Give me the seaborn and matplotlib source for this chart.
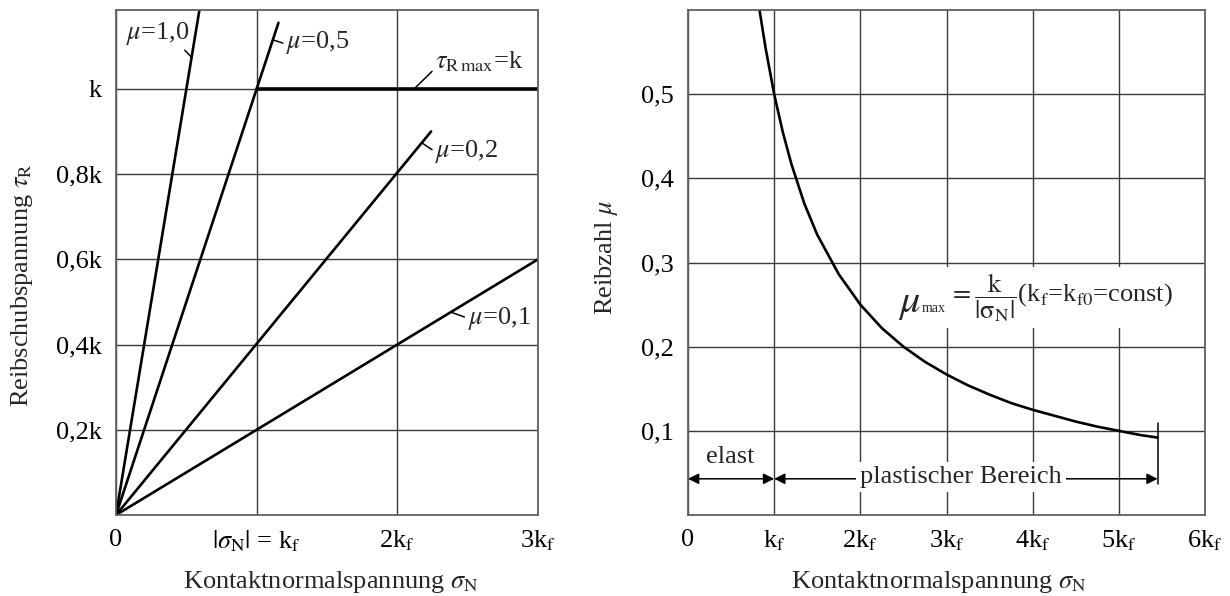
import matplotlib
matplotlib.use("Agg")
import matplotlib.pyplot as plt
import numpy as np
import pandas as pd
import seaborn as sns

# ---------------- data ----------------
# left panel: friction lines tau_R = mu*|sigma_N| (units: x in k_f, y in k)
friction_labels = ["1,0", "0,5", "0,2", "0,1"]
line_x_end = [0.593, 1.155, 2.24, 3.0]
line_y_end = [1.185, 1.155, 0.90, 0.60]
tau_max_x = [1.0, 3.0]
tau_max_y = [1.0, 1.0]

left_xticks = [0, 1, 2, 3]
left_xticklabels = ["0", r"$|\sigma_{\rm N}|$ = k$_{\rm f}$", r"2k$_{\rm f}$", r"3k$_{\rm f}$"]
left_yticks = [0.2, 0.4, 0.6, 0.8, 1.0]
left_yticklabels = ["0,2k", "0,4k", "0,6k", "0,8k", "k"]

# right panel: maximum friction coefficient vs contact normal stress
sigma_n = [0.80, 0.83, 0.9, 1.0, 1.1, 1.2, 1.35, 1.5, 1.75, 2.0, 2.25, 2.5, 2.75,
           3.0, 3.25, 3.5, 3.75, 4.0, 4.25, 4.5, 4.75, 5.0, 5.25, 5.45]
mu_max = [0.625, 0.600, 0.555, 0.500, 0.455, 0.417, 0.370, 0.333, 0.286, 0.250, 0.222,
          0.200, 0.182, 0.167, 0.154, 0.143, 0.133, 0.125, 0.118, 0.111, 0.105,
          0.100, 0.095, 0.092]
plastic_end = 5.45

right_xticks = [0, 1, 2, 3, 4, 5, 6]
right_xticklabels = ["0", r"k$_{\rm f}$", r"2k$_{\rm f}$", r"3k$_{\rm f}$",
                     r"4k$_{\rm f}$", r"5k$_{\rm f}$", r"6k$_{\rm f}$"]
right_yticks = [0.1, 0.2, 0.3, 0.4, 0.5]
right_yticklabels = ["0,1", "0,2", "0,3", "0,4", "0,5"]

# ---------------- style ----------------
sns.set_theme(style="white")
plt.rcParams["font.family"] = ["Liberation Serif", "DejaVu Serif"]
plt.rcParams["mathtext.fontset"] = "stix"

FS = 19
GRID_C = "#3a3a3a"
SPINE_C = "#606060"

fig = plt.figure(figsize=(12.3, 5.96), dpi=100)
ax1 = fig.add_axes([116 / 1230, 1 - 515 / 596, (538 - 116) / 1230, (515 - 10) / 596])
ax2 = fig.add_axes([688 / 1230, 1 - 515 / 596, (1205 - 688) / 1230, (515 - 10) / 596])

# ---------------- left panel ----------------
rows = []
for lab, xe, ye in zip(friction_labels, line_x_end, line_y_end):
    rows.append({"mu": lab, "sigma": 0.0, "tau": 0.0})
    rows.append({"mu": lab, "sigma": xe, "tau": ye})
df_lines = pd.DataFrame(rows)
sns.lineplot(data=df_lines, x="sigma", y="tau", hue="mu", palette=["black"] * 4,
             legend=False, lw=1.9, sort=False, estimator=None, ax=ax1)
sns.lineplot(x=tau_max_x, y=tau_max_y, color="black", lw=2.6, ax=ax1)

ax1.set_xlim(0, 3)
ax1.set_ylim(0, 1.185)
ax1.set_xticks(left_xticks)
ax1.set_xticklabels(left_xticklabels)
ax1.set_yticks(left_yticks)
ax1.set_yticklabels(left_yticklabels)
ax1.set_xlabel(r"Kontaktnormalspannung $\sigma_{\rm N}$", fontsize=FS)
ax1.set_ylabel(r"Reibschubspannung $\tau_{\rm R}$", fontsize=FS)
ax1.xaxis.set_label_coords(0.51, -0.107)
ax1.yaxis.set_label_coords(-0.192, 0.455)

lead = dict(arrowstyle="-", color="black", lw=1.1, shrinkA=0, shrinkB=0)
ax1.annotate(r"$\mu$=1,0", xy=(0.537, 1.074), xytext=(0.30, 1.13), fontsize=FS,
             ha="center", va="center", arrowprops=dict(lead, relpos=(0.85, 0.05)))
ax1.annotate(r"$\mu$=0,5", xy=(1.115, 1.115), xytext=(1.21, 1.108), fontsize=FS,
             ha="left", va="center", arrowprops=dict(lead, relpos=(0.0, 0.45)))
ax1.annotate(r"$\tau_{\rm R\,max}$=k", xy=(2.12, 1.0), xytext=(2.27, 1.063), fontsize=FS,
             ha="left", va="center", arrowprops=dict(lead, relpos=(0.0, 0.25)))
ax1.annotate(r"$\mu$=0,2", xy=(2.18, 0.872), xytext=(2.27, 0.852), fontsize=FS,
             ha="left", va="center", arrowprops=dict(lead, relpos=(0.0, 0.5)))
ax1.annotate(r"$\mu$=0,1", xy=(2.38, 0.476), xytext=(2.50, 0.462), fontsize=FS,
             ha="left", va="center", arrowprops=dict(lead, relpos=(0.0, 0.5)))

# ---------------- right panel ----------------
df_mu = pd.DataFrame({"sigma": sigma_n, "mu": mu_max})
sns.lineplot(data=df_mu, x="sigma", y="mu", color="black", lw=1.9, sort=False,
             estimator=None, ax=ax2)
ax2.set_xlim(0, 6)
ax2.set_ylim(0, 0.6)
ax2.set_xticks(right_xticks)
ax2.set_xticklabels(right_xticklabels)
ax2.set_yticks(right_yticks)
ax2.set_yticklabels(right_yticklabels)
ax2.set_xlabel(r"Kontaktnormalspannung $\sigma_{\rm N}$", fontsize=FS)
ax2.set_ylabel(r"Reibzahl $\mu$", fontsize=FS)
ax2.xaxis.set_label_coords(0.486, -0.107)
ax2.yaxis.set_label_coords(-0.131, 0.51)

# range arrows
arr = dict(arrowstyle="<|-|>", color="black", lw=1.1, shrinkA=0, shrinkB=0,
           mutation_scale=16)
ax2.annotate("", xy=(0, 0.043), xytext=(1, 0.043), arrowprops=arr)
ax2.annotate("", xy=(1, 0.043), xytext=(plastic_end, 0.043), arrowprops=arr)
ax2.plot([plastic_end, plastic_end], [0.037, 0.109], color="black", lw=1.1)
ax2.text(0.49, 0.069, "elast", fontsize=FS, ha="center", va="center")
ax2.text(3.17, 0.045, "plastischer Bereich", fontsize=FS, ha="center", va="center",
         bbox=dict(facecolor="white", edgecolor="none", pad=3), zorder=5)

# formula: large mu, small "max", then fraction and condition
ax2.text(2.44, 0.241, r"$\mu$", fontsize=29, ha="left", va="baseline", zorder=6,
         bbox=dict(facecolor="white", edgecolor="none", pad=1))
ax2.text(2.71, 0.241, "max", fontsize=10, ha="left", va="baseline", zorder=6,
         bbox=dict(facecolor="white", edgecolor="none", pad=1))
ax2.text(3.03, 0.258,
         r"$=\dfrac{\rm k}{|\sigma_{\rm N}|}$(k$_{\rm f}$=k$_{\rm f0}$=const)",
         fontsize=FS, ha="left", va="center",
         bbox=dict(facecolor="white", edgecolor="none", pad=3), zorder=5)

for ax in (ax1, ax2):
    ax.grid(True, color=GRID_C, lw=1.0)
    ax.set_axisbelow(True)
    ax.tick_params(axis="both", length=0, labelsize=FS, pad=10, colors="black")
    for sp in ax.spines.values():
        sp.set_color(SPINE_C)
        sp.set_linewidth(1.3)
        sp.set_visible(True)

fig.savefig("out.png", dpi=100, facecolor="white")
